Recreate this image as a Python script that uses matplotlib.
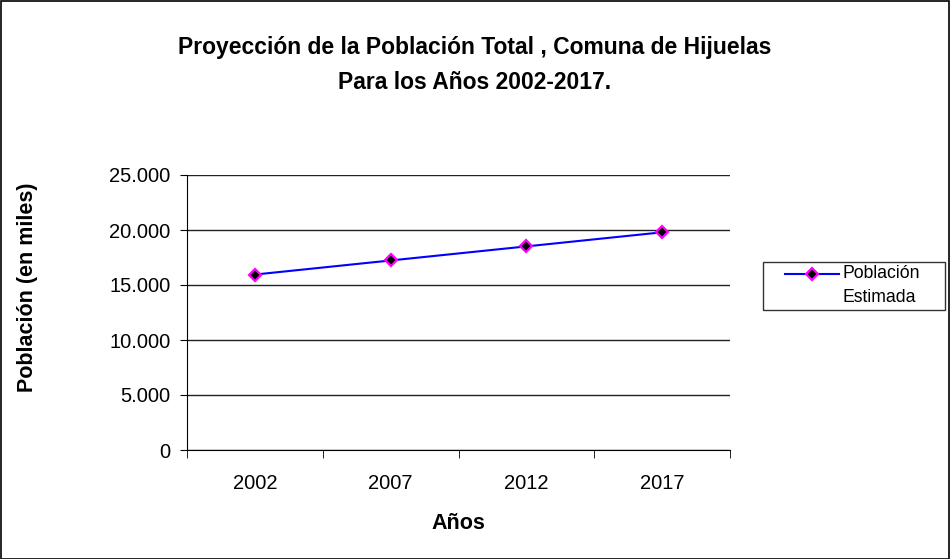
import numpy as np
import matplotlib.pyplot as plt
from matplotlib.lines import Line2D
from matplotlib.ticker import FuncFormatter, FixedLocator

years = ["2002", "2007", "2012", "2017"]
poblacion = [15950, 17230, 18510, 19790]
series_label = ["Población", "Estimada"]

plt.rcParams["font.family"] = ["Liberation Sans", "DejaVu Sans"]

W, H = 950, 559
fig = plt.figure(figsize=(W / 100, H / 100), dpi=100)
ax = fig.add_axes([187 / W, 1 - 450 / H, (730 - 187) / W, (450 - 175) / H])

line_kw = dict(color="#0000ff", lw=1.5, marker="D", ms=6.3,
               mfc="black", mec="#ff00ff", mew=1.6)

x = np.arange(len(years))
ax.plot(x, poblacion, **line_kw)

ax.set_xlim(-0.5, len(years) - 0.5)
ax.set_ylim(0, 25000)
ax.set_yticks(np.arange(0, 25001, 5000))
ax.yaxis.set_major_formatter(FuncFormatter(lambda v, p: f"{int(v):,}".replace(",", ".")))
ax.grid(axis="y", color="#222222", lw=1)
ax.set_axisbelow(True)

ax.set_xticks(x)
ax.set_xticklabels(years)
ax.xaxis.set_minor_locator(FixedLocator(np.arange(-0.5, len(years), 1.0)))
ax.tick_params(axis="x", which="major", length=0, pad=17, labelsize=14.5)
ax.tick_params(axis="x", which="minor", length=6, direction="out")
ax.tick_params(axis="y", length=5, direction="out", labelsize=14.5, pad=7)

for s in ["top", "right"]:
    ax.spines[s].set_visible(False)

ax.set_xlabel("Años", fontsize=15.5, fontweight="bold")
ax.xaxis.set_label_coords(0.499, -0.23)
ax.set_ylabel("Población (en miles)", fontsize=15.5, fontweight="bold")
ax.yaxis.set_label_coords(-0.274, 0.59)

fig.suptitle("Proyección de la Población Total , Comuna de Hijuelas\nPara los Años 2002-2017.",
             x=0.5, y=1 - 36 / H, fontsize=16.5, fontweight="bold", va="top", linespacing=1.65)

# legend drawn by hand so the marker sits on the first text line, like the original
fig.add_artist(plt.Rectangle((763 / W, 1 - 310 / H), (945 - 763) / W, 48 / H,
                             transform=fig.transFigure, fill=False, edgecolor="#333333", lw=1))
fig.add_artist(Line2D([785 / W, 839 / W], [1 - 274 / H] * 2, transform=fig.transFigure,
                      markevery=[], **line_kw))
fig.add_artist(Line2D([812 / W], [1 - 274 / H], transform=fig.transFigure, **line_kw))
fig.text(843 / W, 1 - 274 / H, series_label[0], fontsize=12.7, va="center", ha="left")
fig.text(843 / W, 1 - 297 / H, series_label[1], fontsize=12.7, va="center", ha="left")

fig.add_artist(plt.Rectangle((0.5 / W, 0.5 / H), 1 - 1.5 / W, 1 - 1.5 / H, transform=fig.transFigure,
                             fill=False, edgecolor="black", lw=1.2))

fig.savefig("out.png", dpi=100)
